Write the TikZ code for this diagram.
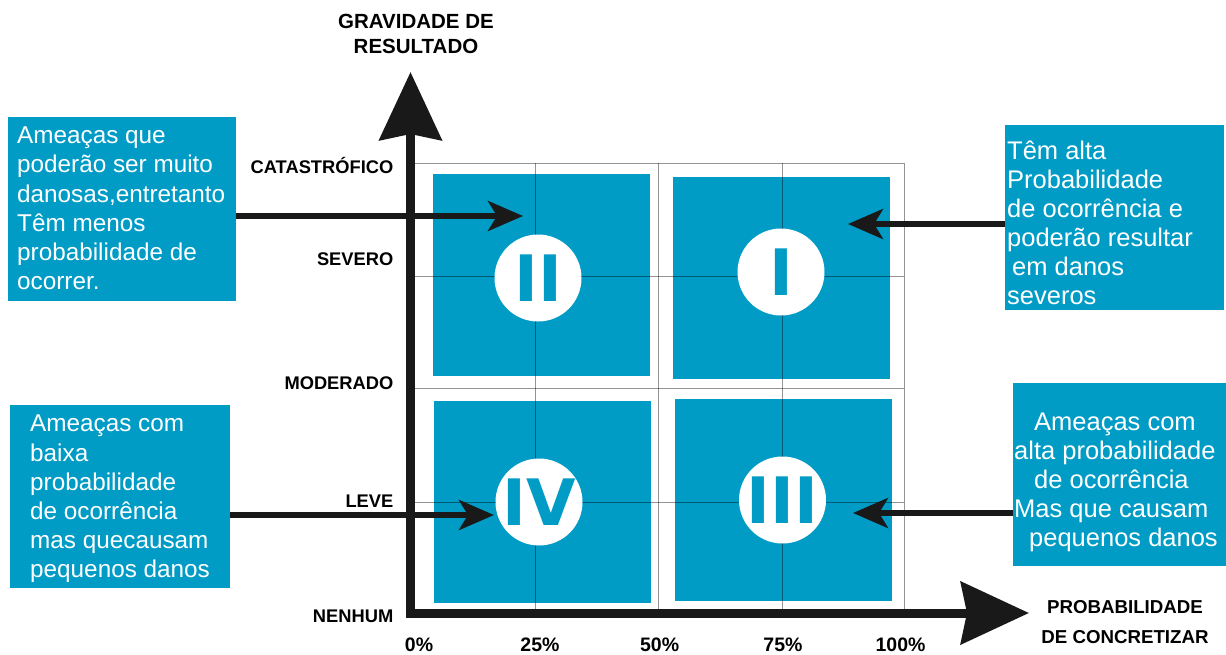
\documentclass[tikz,border=0pt]{standalone}
\usepackage{fontspec}
\setmainfont{Liberation Sans}
\newfontfamily\numfont{DejaVu Sans}
\usetikzlibrary{arrows.meta}
\definecolor{qblue}{RGB}{0,156,198}
\begin{document}
\begin{tikzpicture}[x=1pt,y=-1pt,
  quad/.style={fill=qblue, draw=none},
  ring/.style={circle, fill=white, minimum size=87pt, inner sep=0pt, text=qblue,
    font=\numfont\bfseries\fontsize{64}{64}\selectfont},
  notebox/.style={fill=qblue, draw=none, inner sep=0pt, outer sep=0pt, anchor=north west},
  notetxt/.style={text=white, align=left, anchor=north west, inner sep=0pt},
  leftfont/.style={font=\fontsize{24.3}{29.2}\selectfont},
  rightfont/.style={font=\fontsize{25.5}{29}\selectfont},
  lvl/.style={anchor=base east, inner sep=0pt, font=\bfseries\fontsize{18.3}{20}\selectfont},
  pct/.style={anchor=base, inner sep=0pt, font=\bfseries\fontsize{19.5}{20}\selectfont},
  ttl/.style={anchor=base, inner sep=0pt, font=\bfseries\fontsize{20.5}{22}\selectfont},
  axisline/.style={line width=9pt, black!90, -{Stealth[length=68pt, width=62pt, inset=6pt]}},
  ptr/.style={line width=5.5pt, black!90, -{Stealth[length=35pt, width=30pt, inset=9pt]}},
  gridline/.style={draw=black, opacity=0.42, line width=1pt}
]
\useasboundingbox (0,0) rectangle (1226,654);

% quadrants
\fill[quad] (433,174) rectangle (650,376);
\fill[quad] (673,177) rectangle (890,379);
\fill[quad] (434,401) rectangle (651,603);
\fill[quad] (675,399) rectangle (892,601);

% grid
\draw[gridline] (412,163) rectangle (904,610);
\foreach \gx in {535,658,782} \draw[gridline] (\gx,163) -- (\gx,610);
\foreach \gy in {276,388,502} \draw[gridline] (412,\gy) -- (904,\gy);

% numbered circles
\node[ring] (q2) at (538,278) {II};
\node[ring] (q1) at (781,272) {I};
\node[ring] (q4) at (539,502) {IV};
\node[ring] (q3) at (782.5,500) {III};

% axes
\coordinate (ybot) at (410.5,617.5);
\coordinate (ytip) at (410.5,72);
\coordinate (xleft) at (406,613);
\coordinate (xtip) at (1029,613);
\draw[axisline] (ybot) -- (ytip);
\draw[axisline] (xleft) -- (xtip);

% axis titles
\node[ttl] (t1a) at (416,28.3) {GRAVIDADE DE};
\node[ttl] (t1b) at (416,53.3) {RESULTADO};
\node[ttl, font=\bfseries\fontsize{18.7}{22}\selectfont] (t2a) at (1125,613) {PROBABILIDADE};
\node[ttl, font=\bfseries\fontsize{18.7}{22}\selectfont] (t2b) at (1125,643) {DE CONCRETIZAR};

% level labels
\node[lvl] (l5) at (393.5,173.3) {CATASTRÓFICO};
\node[lvl] (l4) at (393.5,265.7) {SEVERO};
\node[lvl] (l3) at (393.5,389.3) {MODERADO};
\node[lvl] (l2) at (393.5,507.7) {LEVE};
\node[lvl] (l1) at (393.5,622.7) {NENHUM};

% percent labels
\node[pct] (p0) at (419,651.7) {0\%};
\node[pct] (p25) at (540,651.7) {25\%};
\node[pct] (p50) at (659.6,651.7) {50\%};
\node[pct] (p75) at (783,651.7) {75\%};
\node[pct] (p100) at (900.5,651.7) {100\%};

% note boxes
\node[notebox, minimum width=228pt, minimum height=184pt] (b1) at (8,117) {};
\node[notebox, minimum width=219pt, minimum height=185pt] (b2) at (1005,125) {};
\node[notebox, minimum width=220pt, minimum height=183pt] (b3) at (10,405) {};
\node[notebox, minimum width=213pt, minimum height=183pt] (b4) at (1013,383) {};

\node[notetxt, leftfont] (n1) at (17,126.7) {Ameaças que\\poderão ser muito\\danosas,entretanto\\Têm menos\\probabilidade de\\ocorrer.};
\node[notetxt, rightfont] (n2) at (1007,140.7) {Têm alta\\Probabilidade\\de ocorrência e\\poderão resultar\\\hspace*{5pt}em danos\\severos};
\node[notetxt, leftfont] (n3) at (30,415) {Ameaças com\\baixa\\probabilidade\\de ocorrência\\mas quecausam\\pequenos danos};
\node[notetxt, rightfont] (n4) at (1014,412.7) {\hspace*{20pt}Ameaças com\\alta probabilidade\\\hspace*{20pt}de ocorrência\\Mas que causam\\\hspace*{15pt}pequenos danos};

% pointers
\coordinate (a1) at (523,216);
\coordinate (a2) at (848,224);
\coordinate (a3) at (494,515);
\coordinate (a4) at (853,513);
\draw[ptr] (b1.east |- a1) -- (a1);
\draw[ptr] (b2.west |- a2) -- (a2);
\draw[ptr] (b3.east |- a3) -- (a3);
\draw[ptr] (b4.west |- a4) -- (a4);
\end{tikzpicture}
\end{document}
